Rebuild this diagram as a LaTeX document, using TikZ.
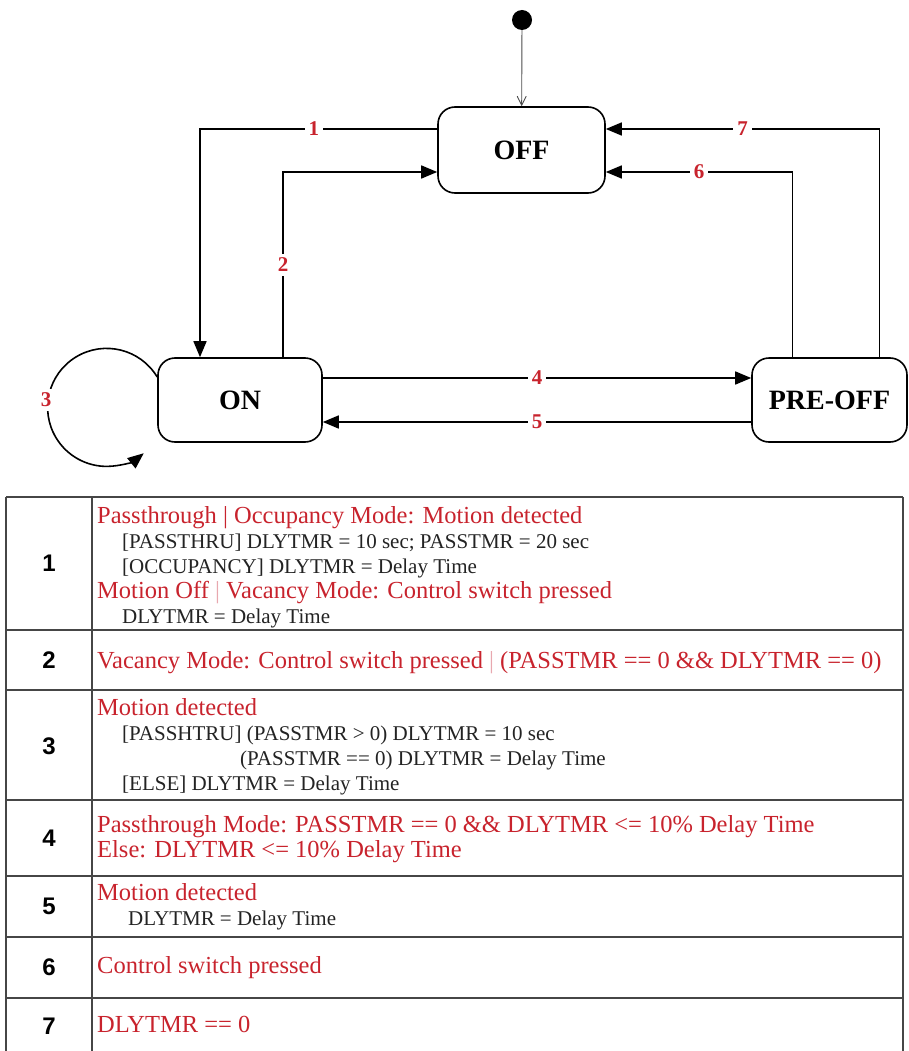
\documentclass[tikz,border=0pt]{standalone}
\usepackage{fontspec}
\setmainfont{Liberation Serif}
\newfontfamily\numfont{Liberation Sans}
\usetikzlibrary{arrows.meta,positioning}
\definecolor{condred}{RGB}{200,35,45}
\definecolor{barpink}{RGB}{232,168,175}
\definecolor{txtgray}{RGB}{35,35,35}
\definecolor{gridgray}{RGB}{70,70,70}

% black sub-line inside a table cell
\newcommand{\blk}[2][25pt]{{\color{txtgray}\fontsize{21}{25}\selectfont\hspace*{#1}#2}}

\begin{document}
\begin{tikzpicture}[
    x=1pt, y=-1pt,
    state/.style={draw, line width=1.6pt, rounded corners=17pt, align=center,
                  font=\fontsize{28}{30}\selectfont\bfseries},
    lbl/.style={fill=white, text=condred, inner sep=4pt,
                font=\fontsize{21}{21}\selectfont\bfseries},
    arrow/.style={-{Triangle[length=16pt,width=13pt]}, line width=1.6pt},
    initarrow/.style={-{Straight Barb[length=9pt,width=9pt]}, line width=0.9pt, gray!60!black},
    grid/.style={line width=2pt, gridgray},
    rownum/.style={font=\numfont\fontsize{24}{24}\selectfont\bfseries},
    cell/.style={anchor=north west, inner sep=0pt, align=left, text=condred,
                 font=\fontsize{24.5}{25}\selectfont}
]
\useasboundingbox (0,0) rectangle (909,1051);

% states
\node[circle, fill=black, inner sep=0pt, minimum size=20pt] (init) at (522,20) {};
\node[state, minimum width=167pt, minimum height=86pt] (off) at (521.5,150) {OFF};
\node[state, minimum width=164pt, minimum height=84pt] (on) at (240,400) {ON};
\node[state, minimum width=155pt, minimum height=84pt] (preoff) at (829.5,400) {PRE-OFF};

% transitions
\draw[initarrow] (init) -- (off);
\draw[arrow] ([yshift=21pt]off.west) -| node[lbl, pos=0.26] (t1) {1} ([xshift=-40pt]on.north);
\draw[arrow] ([xshift=43pt]on.north) |- node[lbl, pos=0.25] (t2) {2} ([yshift=-22pt]off.west);
\draw[arrow] ([yshift=23pt]on.west) arc[start angle=-31, end angle=-309, radius=59];
\node[lbl] (t3) at (46,400) {3};
\draw[arrow] ([yshift=22pt]on.east) -- node[lbl] (t4) {4} ([yshift=22pt]preoff.west);
\draw[arrow] ([yshift=-22pt]preoff.west) -- node[lbl] (t5) {5} ([yshift=-22pt]on.east);
\draw[arrow] ([xshift=-37pt]preoff.north) |- node[lbl, pos=0.75] (t6) {6} ([yshift=-22pt]off.east);
\draw[arrow] ([xshift=50pt]preoff.north) |- node[lbl, pos=0.75] (t7) {7} ([yshift=21pt]off.east);

% table
\foreach \ry in {497,630,690,800,876,937,998}
    \draw[grid] (6,\ry) -- (903,\ry);
\foreach \cx in {6,92,903}
    \draw[grid] (\cx,497) -- (\cx,1051);

\foreach \n/\ry in {1/563,2/660,3/746,4/838,5/906,6/967,7/1026}
    \node[rownum] (n\n) at (49,\ry) {\n};

\node[cell] (c1) at (97,505.5) {\strut Passthrough | Occupancy Mode: Motion detected\\
    \blk{[PASSTHRU] DLYTMR = 10 sec; PASSTMR = 20 sec}\\
    \blk{[OCCUPANCY] DLYTMR = Delay Time}\\
    Motion Off \textcolor{barpink}{|} Vacancy Mode: Control switch pressed\\
    \blk{DLYTMR = Delay Time}};
\node[cell] (c2) at (97,650.5) {\strut Vacancy Mode: Control switch pressed \textcolor{barpink}{|} (PASSTMR == 0 \&\& DLYTMR == 0)};
\node[cell] (c3) at (97,697.5) {\strut Motion detected\\
    \blk{[PASSHTRU] (PASSTMR > 0) DLYTMR = 10 sec}\\
    \blk[143pt]{(PASSTMR == 0) DLYTMR = Delay Time}\\
    \blk{[ELSE] DLYTMR = Delay Time}};
\node[cell] (c4) at (97,814.5) {\strut Passthrough Mode: PASSTMR == 0 \&\& DLYTMR <= 10\% Delay Time\\
    Else: DLYTMR <= 10\% Delay Time};
\node[cell] (c5) at (97,882.5) {\strut Motion detected\\
    \blk[31pt]{DLYTMR = Delay Time}};
\node[cell] (c6) at (97,955.5) {\strut Control switch pressed};
\node[cell] (c7) at (97,1014.5) {\strut DLYTMR == 0};

\end{tikzpicture}
\end{document}
